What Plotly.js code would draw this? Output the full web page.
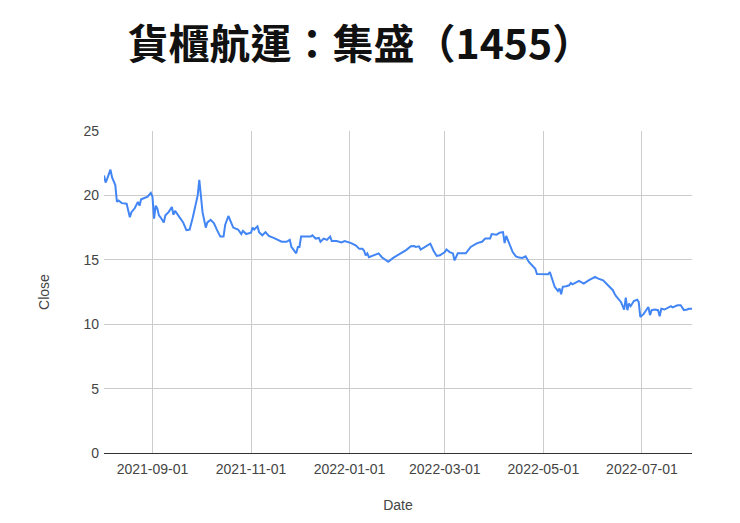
<!DOCTYPE html>
<html>
<head>
<meta charset="utf-8">
<script src="https://cdn.plot.ly/plotly-3.0.1.min.js"></script>
<style>
  html, body { margin: 0; padding: 0; background: #fff; }
  #plot { width: 740px; height: 523px; }
</style>
</head>
<body>
<div id="plot"></div>
<script>
const chartTitle = '貨櫃航運：集盛（1455）';

const dates = [
  '2021-08-02', '2021-08-03', '2021-08-04', '2021-08-06', '2021-08-07', '2021-08-09', '2021-08-10', '2021-08-11',
  '2021-08-13', '2021-08-16', '2021-08-18', '2021-08-19', '2021-08-21', '2021-08-22', '2021-08-23', '2021-08-24',
  '2021-08-25', '2021-08-27', '2021-08-29', '2021-08-31', '2021-09-01', '2021-09-02', '2021-09-03', '2021-09-04',
  '2021-09-05', '2021-09-06', '2021-09-08', '2021-09-09', '2021-09-11', '2021-09-13', '2021-09-14', '2021-09-15',
  '2021-09-17', '2021-09-20', '2021-09-22', '2021-09-24', '2021-09-26', '2021-09-28', '2021-09-29', '2021-09-30',
  '2021-10-01', '2021-10-02', '2021-10-04', '2021-10-05', '2021-10-07', '2021-10-09', '2021-10-11', '2021-10-13',
  '2021-10-15', '2021-10-16', '2021-10-18', '2021-10-19', '2021-10-21', '2021-10-24', '2021-10-26', '2021-10-27',
  '2021-10-29', '2021-11-01', '2021-11-02', '2021-11-03', '2021-11-05', '2021-11-06', '2021-11-08', '2021-11-10',
  '2021-11-12', '2021-11-15', '2021-11-18', '2021-11-20', '2021-11-23', '2021-11-25', '2021-11-26', '2021-11-29',
  '2021-11-30', '2021-12-01', '2021-12-02', '2021-12-05', '2021-12-08', '2021-12-09', '2021-12-11', '2021-12-13',
  '2021-12-14', '2021-12-16', '2021-12-18', '2021-12-20', '2021-12-21', '2021-12-24', '2021-12-27', '2021-12-29',
  '2022-01-02', '2022-01-05', '2022-01-07', '2022-01-09', '2022-01-10', '2022-01-11', '2022-01-12', '2022-01-13',
  '2022-01-16', '2022-01-19', '2022-01-21', '2022-01-25', '2022-01-28', '2022-02-02', '2022-02-05', '2022-02-08',
  '2022-02-10', '2022-02-11', '2022-02-13', '2022-02-14', '2022-02-17', '2022-02-20', '2022-02-22', '2022-02-24',
  '2022-02-26', '2022-03-01', '2022-03-02', '2022-03-04', '2022-03-06', '2022-03-07', '2022-03-09', '2022-03-11',
  '2022-03-14', '2022-03-17', '2022-03-21', '2022-03-24', '2022-03-26', '2022-03-29', '2022-03-30', '2022-04-02',
  '2022-04-04', '2022-04-06', '2022-04-07', '2022-04-08', '2022-04-10', '2022-04-12', '2022-04-14', '2022-04-16',
  '2022-04-18', '2022-04-20', '2022-04-22', '2022-04-25', '2022-04-26', '2022-04-27', '2022-04-29', '2022-05-02',
  '2022-05-04', '2022-05-05', '2022-05-06', '2022-05-08', '2022-05-10', '2022-05-11', '2022-05-12', '2022-05-13',
  '2022-05-15', '2022-05-17', '2022-05-18', '2022-05-19', '2022-05-23', '2022-05-26', '2022-05-29', '2022-06-02',
  '2022-06-04', '2022-06-07', '2022-06-10', '2022-06-13', '2022-06-14', '2022-06-15', '2022-06-18', '2022-06-20',
  '2022-06-21', '2022-06-22', '2022-06-23', '2022-06-24', '2022-06-26', '2022-06-28', '2022-06-29', '2022-06-30',
  '2022-07-02', '2022-07-03', '2022-07-05', '2022-07-06', '2022-07-07', '2022-07-09', '2022-07-11', '2022-07-12',
  '2022-07-13', '2022-07-15', '2022-07-17', '2022-07-19', '2022-07-20', '2022-07-23', '2022-07-25', '2022-07-27',
  '2022-07-29', '2022-07-30', '2022-08-01',
];

const closes = [
  21.55, 21.0, 21.3, 22.0, 21.4, 20.8, 19.5, 19.6,
  19.4, 19.35, 18.3, 18.7, 19.0, 19.2, 19.5, 19.2,
  19.7, 19.8, 19.9, 20.2, 19.9, 18.2, 19.2, 19.0,
  18.45, 18.3, 17.9, 18.45, 18.7, 19.1, 18.5, 18.8,
  18.45, 17.9, 17.3, 17.35, 18.3, 19.35, 20.0, 21.2,
  19.9, 18.7, 17.5, 17.9, 18.1, 17.85, 17.3, 16.8,
  16.8, 17.7, 18.4, 18.05, 17.5, 17.35, 17.0, 17.25,
  17.0, 17.1, 17.5, 17.35, 17.6, 17.15, 16.9, 17.15,
  16.85, 16.7, 16.5, 16.4, 16.4, 16.55, 16.0, 15.5,
  16.0, 16.0, 16.8, 16.8, 16.8, 16.9, 16.65, 16.7,
  16.4, 16.65, 16.55, 16.8, 16.45, 16.45, 16.35, 16.45,
  16.3, 16.1, 15.85, 15.85, 15.7, 15.35, 15.5, 15.2,
  15.35, 15.5, 15.2, 14.85, 15.15, 15.5, 15.75, 16.05,
  16.07, 16.0, 16.05, 15.8, 16.0, 16.25, 15.7, 15.3,
  15.35, 15.6, 15.8, 15.6, 15.5, 14.95, 15.5, 15.5,
  15.5, 16.0, 16.3, 16.4, 16.65, 16.65, 17.0, 16.95,
  17.1, 17.15, 16.3, 16.85, 16.25, 15.6, 15.27, 15.17,
  15.14, 15.27, 14.83, 14.4, 14.3, 13.9, 13.9, 13.85,
  13.87, 14.05, 13.67, 12.9, 12.58, 12.77, 12.33, 12.9,
  12.95, 13.02, 13.2, 13.1, 13.36, 13.15, 13.4, 13.67,
  13.54, 13.4, 13.02, 12.64, 12.38, 12.17, 11.73, 11.14,
  12.07, 11.09, 11.6, 11.4, 11.8, 11.9, 11.73, 10.57,
  10.78, 10.95, 11.34, 10.7, 11.09, 11.14, 11.09, 10.62,
  11.2, 11.14, 11.3, 11.4, 11.3, 11.47, 11.47, 11.09,
  11.14, 11.2, 11.2,
];

const yTicks = [0, 5, 10, 15, 20, 25];

const axisFont = { family: 'Liberation Sans, Arial, sans-serif', size: 14, color: '#444' };

const data = [
  {
    x: dates,
    y: closes,
    type: 'scatter',
    mode: 'lines',
    name: 'Close',
    line: { color: '#4285f4', width: 2 },
    hoverinfo: 'x+y',
  },
];

const layout = {
  width: 740,
  height: 523,
  paper_bgcolor: '#fff',
  plot_bgcolor: '#fff',
  showlegend: false,
  title: {
    text: '<b>' + chartTitle + '</b>',
    font: { family: 'Noto Sans CJK TC, sans-serif', size: 41, color: '#111' },
    xref: 'container',
    x: 0.487,
    xanchor: 'center',
    yref: 'container',
    y: 0.915,
    yanchor: 'middle',
  },
  margin: { l: 104, r: 48, t: 131, b: 70 },
  xaxis: {
    type: 'date',
    range: [dates[0], dates[dates.length - 1]],
    tick0: '2021-09-01',
    dtick: 'M2',
    tickformat: '%Y-%m-%d',
    showgrid: true,
    gridcolor: '#cccccc',
    gridwidth: 1,
    zeroline: false,
    showline: false,
    ticks: '',
    ticklabelstandoff: 6,
    tickfont: axisFont,
    title: { text: 'Date', font: axisFont, standoff: 24 },
  },
  yaxis: {
    range: [0, 25],
    tickvals: yTicks,
    showgrid: true,
    gridcolor: '#cccccc',
    gridwidth: 1,
    zeroline: true,
    zerolinecolor: '#333',
    zerolinewidth: 1,
    showline: false,
    ticks: '',
    ticklabelstandoff: 4,
    tickfont: axisFont,
    title: { text: 'Close', font: axisFont, standoff: 30 },
  },
};

Plotly.newPlot('plot', data, layout, { displayModeBar: false, staticPlot: true });
</script>
</body>
</html>
